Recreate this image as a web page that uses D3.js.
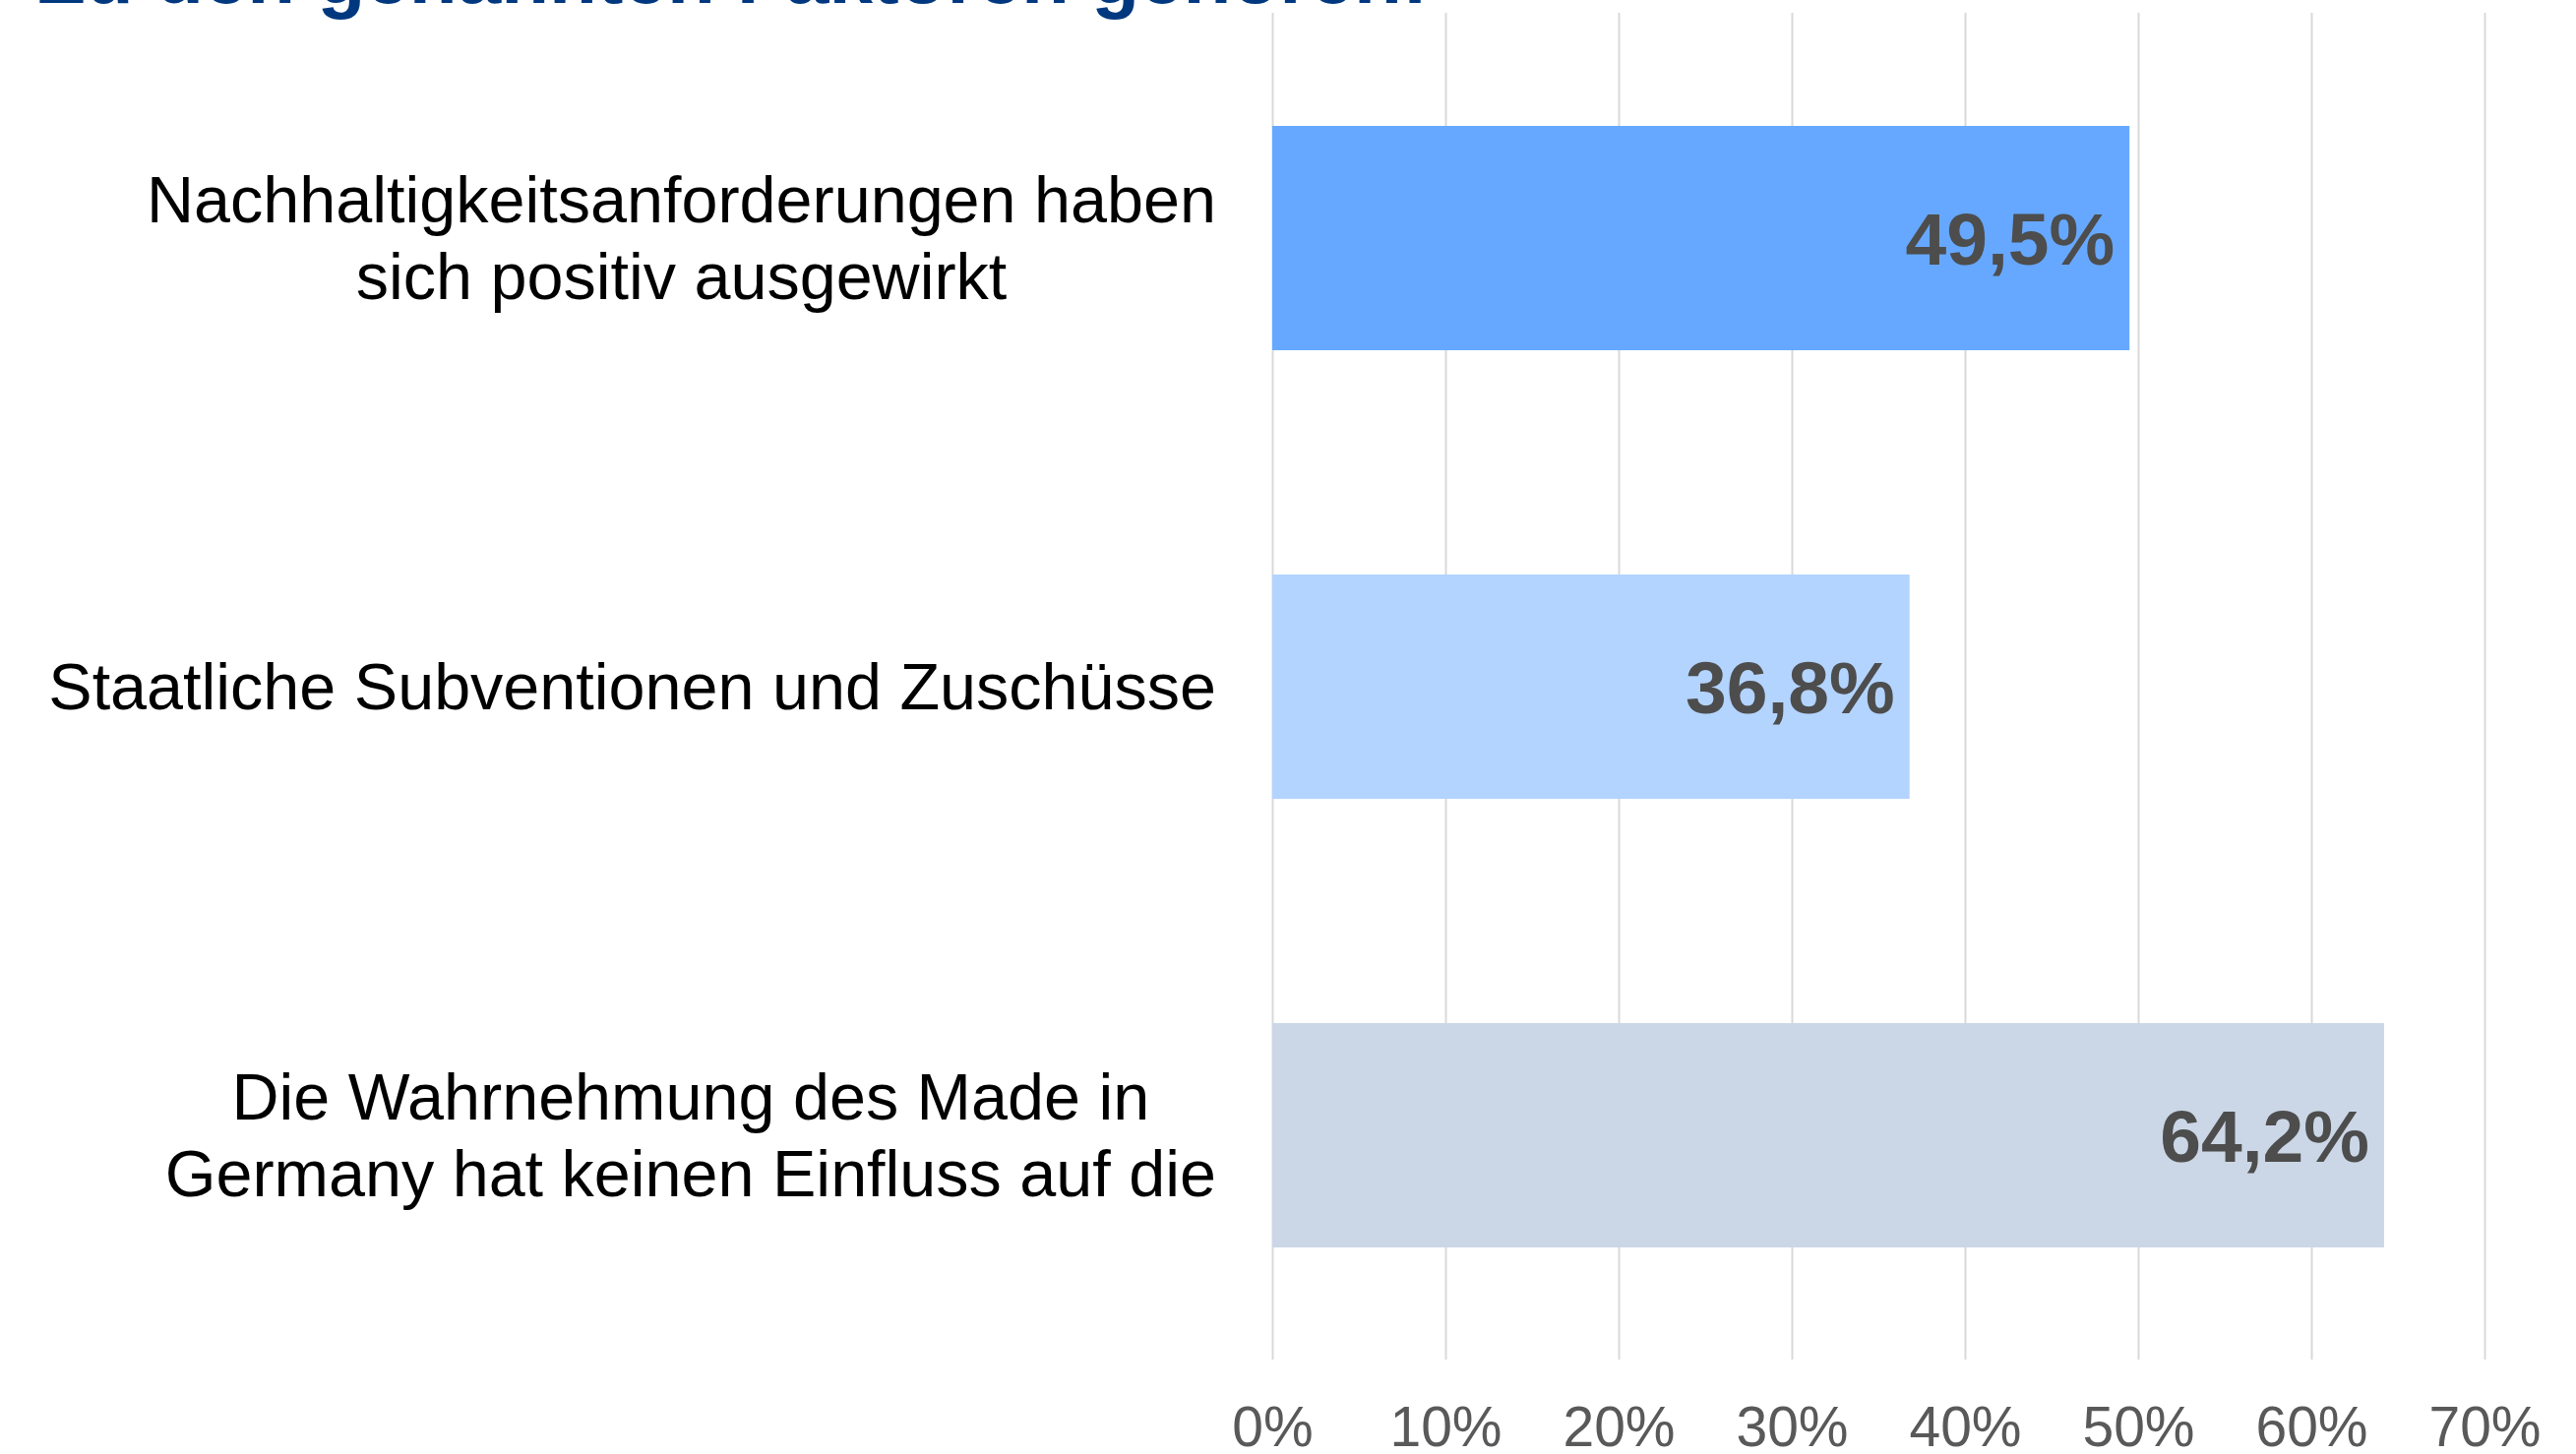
<!DOCTYPE html>
<html lang="de">
<head>
  <meta charset="utf-8">
  <script src="https://d3js.org/d3.v7.min.js"></script>
  <style>
    html, body { margin: 0; padding: 0; background: #ffffff; overflow: hidden; }
    svg { display: block; font-family: "Liberation Sans", Arial, sans-serif; }
  </style>
</head>
<body>
<script>
  // chart data
  const titleText = "Zu den genannten Faktoren gehören:";
  const categories = [
    ["Nachhaltigkeitsanforderungen haben", "sich positiv ausgewirkt"],
    ["Staatliche Subventionen und Zuschüsse"],
    ["Die Wahrnehmung des Made in", "Germany hat keinen Einfluss auf die"]
  ];
  const values = [0.495, 0.368, 0.642];
  const barColors = ["#66a8ff", "#b3d4ff", "#cbd7e6"];
  const tickValues = [0, 0.1, 0.2, 0.3, 0.4, 0.5, 0.6, 0.7];

  const w = 2618, h = 1478;
  const plotLeft = 1293, plotRight = 2525;
  const plotTop = 14, plotBottom = 1382;

  const svg = d3.select("body").append("svg")
    .attr("width", w)
    .attr("height", h);

  // scales
  const xScale = d3.scaleLinear()
    .domain([0, 0.7])
    .range([plotLeft, plotRight]);
  const yScale = d3.scaleBand()
    .domain(d3.range(categories.length))
    .range([plotTop, plotBottom])
    .paddingInner(0.5)
    .paddingOuter(0.25);

  // axis with gridlines
  const xAxis = d3.axisBottom(xScale)
    .tickValues(tickValues)
    .tickSizeInner(-(plotBottom - 13))
    .tickSizeOuter(0)
    .tickPadding(48)
    .tickFormat(d => Math.round(d * 100) + "%");

  const axisG = svg.append("g")
    .attr("transform", "translate(0," + plotBottom + ")")
    .call(xAxis);
  axisG.select(".domain").remove();
  axisG.selectAll(".tick line")
    .attr("stroke", "#d9d9d9")
    .attr("stroke-width", 2);
  axisG.selectAll(".tick text")
    .attr("fill", "#595959")
    .attr("font-size", "57px")
    .attr("font-family", "'Liberation Sans', Arial, sans-serif");

  // bars
  svg.selectAll("rect.bar")
    .data(values)
    .enter()
    .append("rect")
    .attr("class", "bar")
    .attr("x", xScale(0))
    .attr("y", (d, i) => yScale(i))
    .attr("width", d => xScale(d) - xScale(0))
    .attr("height", yScale.bandwidth())
    .attr("fill", (d, i) => barColors[i]);

  // value labels
  svg.selectAll("text.val")
    .data(values)
    .enter()
    .append("text")
    .attr("class", "val")
    .attr("x", d => xScale(d) - 15)
    .attr("y", (d, i) => yScale(i) + yScale.bandwidth() / 2 + 27)
    .attr("text-anchor", "end")
    .attr("font-size", "75px")
    .attr("font-weight", "bold")
    .attr("fill", "#4d4d4d")
    .text(d => (d * 100).toFixed(1).replace(".", ",") + "%");

  // category labels (lines centred, block right-aligned)
  const labelRight = 1236;
  const lineH = 78;
  categories.forEach((lines, i) => {
    const cy = yScale(i) + yScale.bandwidth() / 2;
    const t = svg.append("text")
      .attr("font-size", "66.5px")
      .attr("fill", "#000000")
      .attr("text-anchor", "middle");
    const spans = lines.map((line, j) =>
      t.append("tspan")
        .attr("y", cy + 23 + (j - (lines.length - 1) / 2) * lineH)
        .text(line));
    const maxW = d3.max(spans, s => s.node().getComputedTextLength());
    spans.forEach(s => s.attr("x", labelRight - maxW / 2));
  });

  // title (clipped at the top in the original)
  svg.append("text")
    .attr("x", 38)
    .attr("y", 3)
    .attr("font-size", "80px")
    .attr("font-weight", "bold")
    .attr("fill", "#00387f")
    .text(titleText);
</script>
</body>
</html>
